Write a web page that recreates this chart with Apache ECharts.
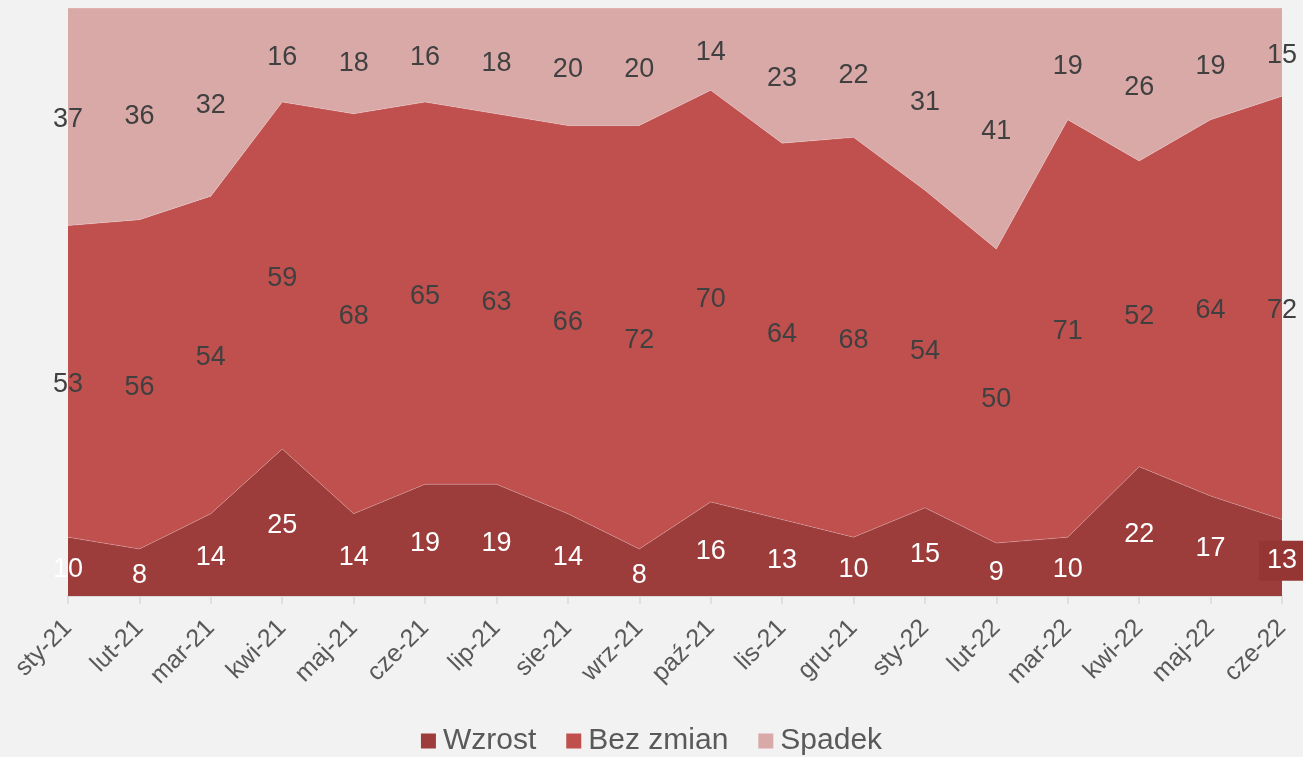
<!DOCTYPE html>
<html>
<head>
<meta charset="utf-8">
<script src="https://cdn.jsdelivr.net/npm/echarts@6/dist/echarts.min.js"></script>
<style>
  html, body { margin: 0; padding: 0; background: #f2f2f2; }
  #chart { width: 1303px; height: 757px; }
</style>
</head>
<body>
<div id="chart"></div>
<script>
  var months = ['sty-21', 'lut-21', 'mar-21', 'kwi-21', 'maj-21', 'cze-21', 'lip-21', 'sie-21', 'wrz-21',
    'paź-21', 'lis-21', 'gru-21', 'sty-22', 'lut-22', 'mar-22', 'kwi-22', 'maj-22', 'cze-22'];
  var wzrost = [10, 8, 14, 25, 14, 19, 19, 14, 8, 16, 13, 10, 15, 9, 10, 22, 17, 13];
  var bezZmian = [53, 56, 54, 59, 68, 65, 63, 66, 72, 70, 64, 68, 54, 50, 71, 52, 64, 72];
  var spadek = [37, 36, 32, 16, 18, 16, 18, 20, 20, 14, 23, 22, 31, 41, 19, 26, 19, 15];

  var names = ['Wzrost', 'Bez zmian', 'Spadek'];
  var colors = ['#9c3d3c', '#c0504d', '#d9a9a8'];
  var labelColors = ['#ffffff', '#404040', '#404040'];
  var values = [wzrost, bezZmian, spadek];

  var font = 'Liberation Sans, Arial, sans-serif';

  var chart = echarts.init(document.getElementById('chart'));

  var series = [];
  // stacked areas
  values.forEach(function (arr, k) {
    series.push({
      name: names[k],
      type: 'line',
      stack: 'total',
      data: arr,
      symbol: 'none',
      lineStyle: { width: 0.6, color: 'rgba(255,255,255,0.35)' },
      areaStyle: { color: colors[k], opacity: 1 },
      itemStyle: { color: colors[k] },
      silent: true,
      z: 2
    });
  });
  // labels in the middle of each band
  values.forEach(function (arr, k) {
    var pts = arr.map(function (v, i) {
      var below = 0;
      for (var j = 0; j < k; j++) below += values[j][i];
      var item = { value: [i, below + v / 2], label: { formatter: String(v) } };
      if (k === 0 && i === arr.length - 1) {
        item.label.backgroundColor = '#963634';
        item.label.padding = [8, 8, 5, 8];
      }
      return item;
    });
    series.push({
      type: 'scatter',
      data: pts,
      symbolSize: 0,
      silent: true,
      z: 5,
      itemStyle: { opacity: 1 },
      label: {
        show: true,
        position: 'inside',
        offset: [0, 3],
        color: labelColors[k],
        fontSize: 27,
        fontFamily: font
      }
    });
  });

  chart.setOption({
    backgroundColor: '#f2f2f2',
    animation: false,
    grid: { left: 68, right: 21, top: 8, bottom: 161 },
    legend: {
      data: names,
      bottom: -4,
      left: 'center',
      icon: 'rect',
      itemWidth: 15,
      itemHeight: 15,
      itemGap: 30,
      textStyle: { color: '#595959', fontSize: 30, fontFamily: font, padding: [0, 0, 0, 2] },
      selectedMode: false
    },
    xAxis: {
      type: 'category',
      data: months,
      boundaryGap: false,
      axisLine: { lineStyle: { color: '#d9d9d9', width: 1.5 } },
      axisTick: { show: true, length: 8, lineStyle: { color: '#d9d9d9', width: 1.5 } },
      axisLabel: {
        rotate: 45,
        interval: 0,
        color: '#595959',
        fontSize: 25,
        fontFamily: font,
        margin: 28
      },
      splitLine: { show: false }
    },
    yAxis: {
      type: 'value',
      min: 0,
      max: 100,
      interval: 100,
      axisLabel: { show: false },
      axisLine: { show: false },
      axisTick: { show: false },
      splitLine: { show: true, lineStyle: { color: '#d9d9d9' } }
    },
    series: series
  });
</script>
</body>
</html>
